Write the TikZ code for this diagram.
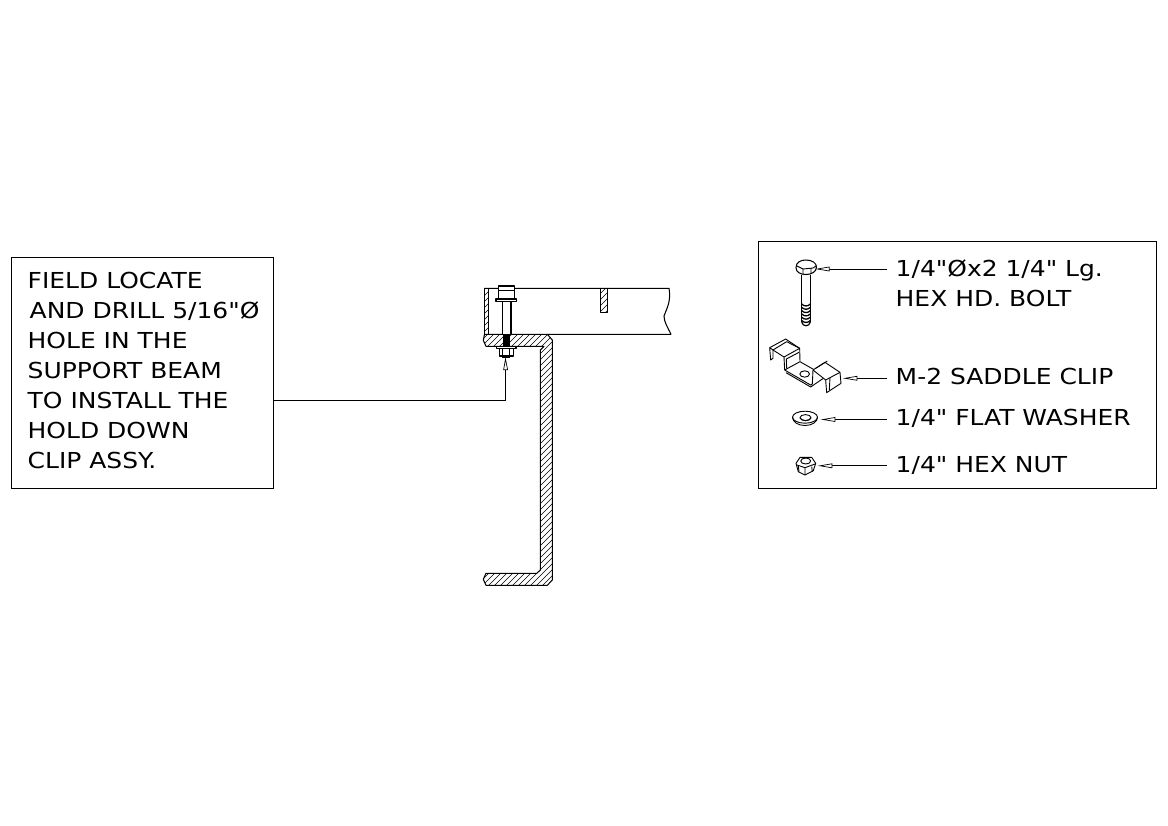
\documentclass[tikz,border=0pt]{standalone}
\usepackage{fontspec}
\newfontfamily\lblfont[FakeStretch=1.135]{DejaVu Sans}
\tikzset{
  lbl/.style={anchor=base west,inner sep=0pt,font=\lblfont\fontsize{22bp}{24bp}\selectfont},
  obj/.style={line width=1.05bp,line join=round},
  thinpart/.style={line width=0.9bp,line join=round},
  hatchline/.style={line width=0.5bp},
  frame/.style={draw,line width=0.9bp,inner sep=0pt,outer sep=0pt},
  tiphead/.style={line width=0.7bp,line join=miter,fill=white},
  leadline/.style={line width=0.85bp}
}
\newcommand{\hatchin}[1]{\begin{scope}\clip #1;
  \foreach \k in {-320,-314,...,110}{\draw[hatchline] (470+\k,600) -- (470+\k+340,260);}
  \end{scope}\draw[obj] #1;}
\newcommand{\leadto}[4]{% name, tip x, y, free end x
  \coordinate (#1tip) at (#2,#3);
  \coordinate (#1end) at (#4,#3);
  \draw[leadline] (#2+12,#3) -- (#1end);
  \draw[tiphead] (#1tip) -- (#2+12,#3-2) -- (#2+12,#3+2) -- cycle;}
\begin{document}
\begin{tikzpicture}[x=1bp,y=-1bp]
\useasboundingbox (0,0) rectangle (1168,826);
\fill[white] (0,0) rectangle (1168,826);
% boxes
\node[frame,minimum width=262bp,minimum height=230.7bp,anchor=north west] (leftbox) at (11.3,257.3) {};
\node[frame,minimum width=398bp,minimum height=247bp,anchor=north west] (rightbox) at (758.2,241) {};
% left text
\node[lbl] (t1) at (27.5,288.3) {FIELD LOCATE};
\node[lbl] (t2) at (29.5,318.3) {AND DRILL 5/16"Ø};
\node[lbl] (t3) at (27.5,348.3) {HOLE IN THE};
\node[lbl] (t4) at (27.5,378.6) {SUPPORT BEAM};
\node[lbl] (t5) at (27.5,408.3) {TO INSTALL THE};
\node[lbl] (t6) at (27.5,438.3) {HOLD DOWN};
\node[lbl] (t7) at (27.5,468.3) {CLIP ASSY.};
% right text
\node[lbl] (r1) at (895.5,276.7) {1/4"Øx2 1/4" Lg.};
\node[lbl] (r2) at (895.5,306.7) {HEX HD. BOLT};
\node[lbl] (r3) at (895.5,384.3) {M-2 SADDLE CLIP};
\node[lbl] (r4) at (895.5,425.7) {1/4" FLAT WASHER};
\node[lbl] (r5) at (895.5,472.7) {1/4" HEX NUT};
% beam
\draw[obj] (484.3,288.3) -- (669,288.3) .. controls (671,300) and (668,306) .. (664,316) .. controls (664,322) and (668,328) .. (671,334.3) -- (547,334.3);
\hatchin{(484.3,288.3) -- (488.3,288.3) -- (488.3,334.3) -- (484.3,334.3) -- cycle}
\hatchin{(600.7,288.3) -- (607.7,288.3) -- (607.7,312.7) -- (600.7,312.7) -- cycle}
% channel
\hatchin{(484.5,334.3) -- (547.3,334.3) -- (552.3,340) -- (552.3,580) -- (547.3,585.3) -- (486,585.3) -- (483.3,579.3) -- (486,573.3) -- (536.7,573.3) -- (540.4,570) -- (540.4,350) -- (544,346.3) -- (486,346.3) -- (483.3,340.3) -- cycle}
% bolt section
\fill[white] (502.3,301) rectangle (511,334);
\draw[obj,fill=white] (498.3,286) rectangle (514.3,299);
\draw[thinpart] (498.3,290) -- (514.3,290);
\draw[obj,fill=white] (496,299) rectangle (516.7,301.7);
\draw[obj] (502.3,301.7) -- (502.3,334.3) (511,301.7) -- (511,334.3);
\fill[black] (503,334.3) rectangle (510.3,346);
\draw[obj,fill=white] (496.7,346.4) rectangle (516,348.7);
\draw[obj,fill=white] (499.3,348.7) rectangle (513.3,356);
\draw[thinpart] (502.5,348.7) -- (502.5,356) (509.5,348.7) -- (509.5,356);
\fill[black] (502.3,356) rectangle (510,358.3);
% leader to field note
\coordinate (ltip) at (505.5,359);
\coordinate (lelbow) at (505.7,400.7);
\draw[leadline] (505.7,369.8) -- (lelbow) -- (leftbox.east |- lelbow);
\draw[tiphead] (ltip) -- (503.6,369.8) -- (507.6,369.8) -- cycle;
% bolt part
\draw[obj,fill=white] (796,267.5) .. controls (796,262) and (801,260) .. (806,260) .. controls (812,260) and (816.5,263) .. (816.5,267) .. controls (816.5,272) and (811,274.5) .. (806,274.5) .. controls (800,274.5) and (796,272) .. (796,267.5) -- cycle;
\draw[thinpart] (797,266) -- (803,269) -- (813,268) -- (816,266) (803,269) -- (803,274.5) (811,268) -- (811,274);
\draw[obj] (801.7,274.5) -- (801.7,322) (810.3,274.5) -- (810.3,322);
\foreach \yy in {304,307.3,...,323}{\draw[line width=1.3bp] (801.7,\yy) .. controls (804,\yy+2.6) and (808,\yy+2.6) .. (810.3,\yy);}
\draw[line width=1.2bp] (801.7,322) .. controls (802.5,327) and (809.5,327) .. (810.3,322);
\leadto{bolt}{817.3}{269}{886.7}
% saddle clip
\begin{scope}[shift={(764,335)},x=0.3333bp,y=-0.3333bp]
\draw[thinpart] (17,38) -- (65,12) -- (107,40) -- (108,80);
\draw[thinpart] (17,38) -- (20,75) -- (27,70) -- (27,45) -- (17,38);
\draw[thinpart] (27,45) -- (68,20) -- (107,40);
\draw[thinpart] (27,45) -- (60,66) -- (107,40);
\draw[thinpart] (60,66) -- (62,105);
\draw[thinpart] (67,72) -- (68,100) (67,72) -- (105,52);
\draw[thinpart] (62,105) -- (108,80) -- (150,104);
\draw[thinpart] (62,105) -- (140,150) -- (145,147) (66,113) -- (140,156) -- (178,130);
\draw[thinpart] (122,117) ellipse (14.5 and 9.5);
\draw[thinpart] (147,105) -- (183,82) -- (228,112) -- (231,145) -- (188,173) -- (185,135) -- (147,105);
\draw[thinpart] (147,105) -- (145,147);
\draw[thinpart] (185,135) -- (228,112);
\draw[thinpart] (155,100) -- (190,78);
\draw[thinpart] (198,128) -- (196,165);
\end{scope}
\leadto{clip}{845}{378.3}{886.7}
% washer
\draw[thinpart] (805,417.2) ellipse (12.5bp and 6bp);
\draw[thinpart] (792.5,417.2) .. controls (792.5,422) and (798,425.5) .. (805,425.5) .. controls (812,425.5) and (817.5,422) .. (817.5,417.2);
\draw[thinpart] (805.5,417.6) ellipse (5.5bp and 3bp);
\draw[thinpart] (800,418) .. controls (802,421.5) and (809,421.5) .. (811,418);
\leadto{washer}{823}{419.5}{886.7}
% nut
\draw[thinpart] (796,463.3) -- (800,457.3) -- (811.7,457.3) -- (815.7,463.3) -- (813.3,470.7) -- (805,475) -- (798.3,471.7) -- cycle;
\draw[thinpart] (805.7,461) ellipse (5bp and 3bp);
\draw[thinpart] (797,465) -- (805,467.7) -- (815,464) (805,467.7) -- (805,475) (798.3,465.7) -- (799,471.7) (811.7,466.7) -- (812.3,471.7);
\leadto{nut}{820}{465.8}{886.7}
\end{tikzpicture}
\end{document}
